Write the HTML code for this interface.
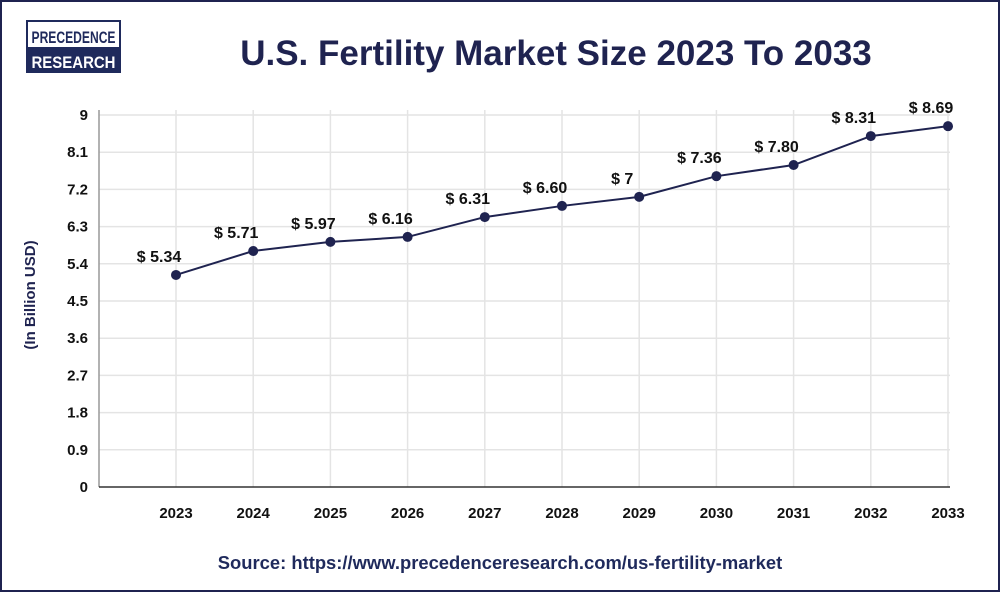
<!DOCTYPE html>
<html><head><meta charset="utf-8"><style>
body{margin:0;background:#fff;}
#wrap{position:relative;width:1000px;height:592px;overflow:hidden;font-family:"Liberation Sans",sans-serif;}
#frame{position:absolute;left:0;top:0;width:996px;height:588px;border:2px solid #1f2350;}
svg{position:absolute;left:0;top:0;}
</style></head><body>
<div id="wrap">
<div id="frame"></div>
<svg id="chart" width="1000" height="592">
 <g>
  <rect x="27" y="21" width="93" height="51" fill="#fff" stroke="#1f2a5c" stroke-width="2"/>
  <rect x="27" y="47" width="93" height="25" fill="#1f2a5c"/>
  <text x="73.5" y="43" text-anchor="middle" font-size="17" font-weight="bold" fill="#1f2a5c" textLength="84" lengthAdjust="spacingAndGlyphs">PRECEDENCE</text>
  <text x="73.5" y="68" text-anchor="middle" font-size="17" font-weight="bold" fill="#fff" textLength="84" lengthAdjust="spacingAndGlyphs">RESEARCH</text>
 </g>
 <text x="556" y="65" text-anchor="middle" font-size="35" font-weight="bold" fill="#1f2350">U.S. Fertility Market Size 2023 To 2033</text>
 <text transform="translate(35,295) rotate(-90)" text-anchor="middle" font-size="15" font-weight="bold" fill="#1f2350">(In Billion USD)</text>
 <text x="500" y="569" text-anchor="middle" font-size="18.4" font-weight="bold" fill="#1f2a5c">Source: https://www.precedenceresearch.com/us-fertility-market</text>
 <g id="grid"></g><g id="axes"></g><g id="series"></g>
</svg>
</div>
<script>
const categories=["2023","2024","2025","2026","2027","2028","2029","2030","2031","2032","2033"];
const values=[5.13,5.71,5.93,6.05,6.53,6.80,7.02,7.52,7.79,8.49,8.73];
const valueLabels=["$ 5.34","$ 5.71","$ 5.97","$ 6.16","$ 6.31","$ 6.60","$ 7","$ 7.36","$ 7.80","$ 8.31","$ 8.69"];
const yTicks=[0,0.9,1.8,2.7,3.6,4.5,5.4,6.3,7.2,8.1,9];
const yTickLabels=["0","0.9","1.8","2.7","3.6","4.5","5.4","6.3","7.2","8.1","9"];
const NS="http://www.w3.org/2000/svg";
const y=v=>487-v*(487-115)/9;
const x=i=>176+i*77.2;
function mk(t,a,p){const e=document.createElementNS(NS,t);for(const k in a)e.setAttribute(k,a[k]);p.appendChild(e);return e;}
const grid=document.getElementById('grid'),axes=document.getElementById('axes'),ser=document.getElementById('series');
yTicks.forEach((v,i)=>{
 if(v>0){const l=mk('line',{x1:99,x2:950,y1:y(v),y2:y(v),stroke:'#e4e4e4','stroke-width':1.5},grid);
 
 }
 const t=mk('text',{x:88,y:y(v)+5,'text-anchor':'end','font-size':15,'font-weight':'bold',fill:'#111'},axes);t.textContent=yTickLabels[i];
 
 
});
categories.forEach((c,i)=>{
 const l=mk('line',{x1:x(i),x2:x(i),y1:110,y2:487,stroke:'#e4e4e4','stroke-width':1.5},grid);
 
 
 const t=mk('text',{x:x(i),y:518,'text-anchor':'middle','font-size':15,'font-weight':'bold',fill:'#111'},axes);t.textContent=c;
 
 
});
const ya=mk('line',{x1:99,x2:99,y1:110,y2:487,stroke:'#999','stroke-width':1.5},axes);


const xa=mk('line',{x1:99,x2:950,y1:487,y2:487,stroke:'#333','stroke-width':1.5},axes);


const pl=mk('polyline',{points:values.map((v,i)=>x(i)+','+y(v)).join(' '),fill:'none',stroke:'#1f2350','stroke-width':2},ser);


values.forEach((v,i)=>{
 const c=mk('circle',{cx:x(i),cy:y(v),r:5,fill:'#1f2350'},ser);
 
 
 const t=mk('text',{x:x(i)-17,y:y(v)-13,'text-anchor':'middle','font-size':16,'font-weight':'bold',fill:'#111'},ser);t.textContent=valueLabels[i];
 
 
});
</script>
</body></html>
